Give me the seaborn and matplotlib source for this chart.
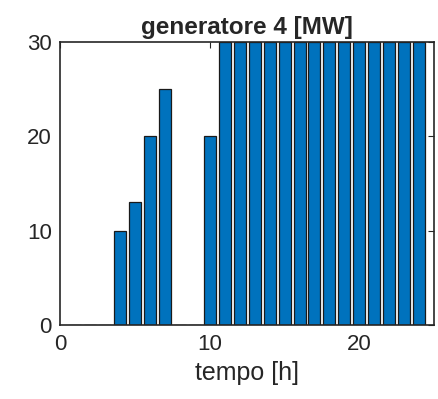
import numpy as np
import matplotlib
matplotlib.use("Agg")
import matplotlib.pyplot as plt
import seaborn as sns

# Data: hourly output of generator 4
hours = list(range(1, 25))
power = [0, 0, 0, 10, 13, 20, 25, 0, 0, 20,
         30, 30, 30, 30, 30, 30, 30, 30, 30, 30, 30, 30, 30, 30]

sns.set_style("white")
plt.rcParams['font.family'] = ['Liberation Sans', 'DejaVu Sans']

fig = plt.figure(figsize=(4.39, 3.99), dpi=100)
ax = fig.add_axes([0.137, 0.185, 0.852, 0.71])

sns.barplot(x=hours, y=power, native_scale=True, width=0.8,
            color="#0072BD", saturation=1, edgecolor="#1a1a1a",
            linewidth=0.9, ax=ax)

ax.set_xlim(0, 25)
ax.set_ylim(0, 30)
ax.set_xticks([0, 10, 20])
ax.set_yticks([0, 10, 20, 30])
ax.tick_params(direction='in', length=4, width=0.8, labelsize=16,
               colors='#262626', top=True, right=True, pad=6)
for s in ax.spines.values():
    s.set_color('#262626')
    s.set_linewidth(1.2)
    s.set_visible(True)

ax.set_xlabel("tempo [h]", fontsize=18, color='#262626', labelpad=5)
ax.set_ylabel("")
ax.set_title("generatore 4 [MW]", fontsize=17.5, fontweight='bold', pad=6)

fig.savefig("out.png", dpi=100)
